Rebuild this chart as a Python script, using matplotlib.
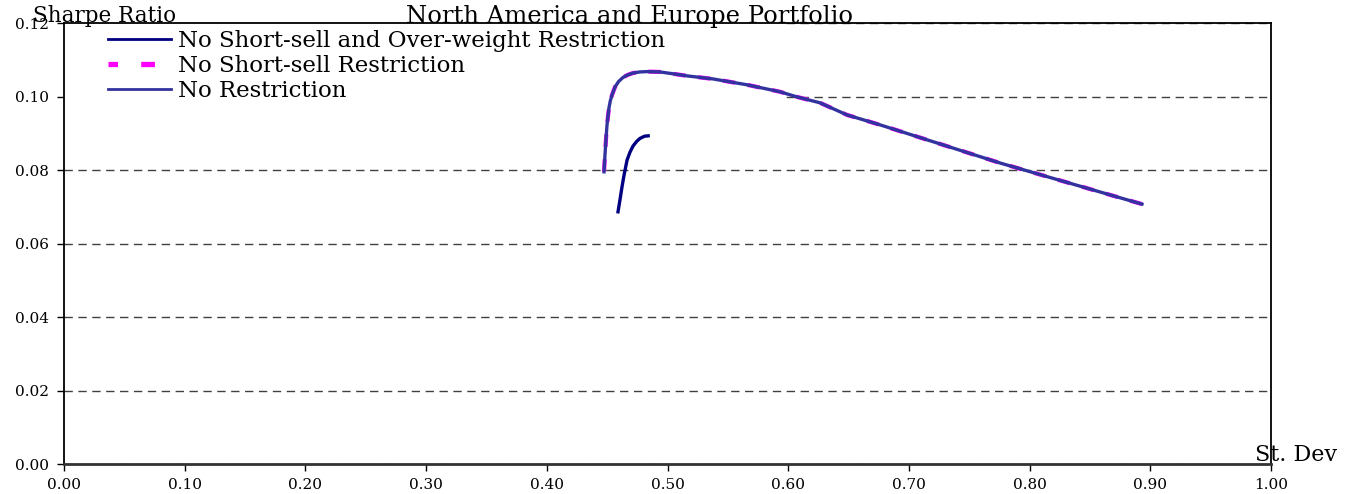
import matplotlib
matplotlib.use("Agg")
import matplotlib.pyplot as plt
from matplotlib.lines import Line2D
from matplotlib.patches import Rectangle

plt.rcParams['font.family'] = ['DejaVu Serif']

# St. Dev / Sharpe ratio
sd_nsow = [0.4590, 0.4606, 0.4623, 0.4640, 0.4665, 0.4690, 0.4714, 0.4745,
           0.4772, 0.4810, 0.4840]
sr_nsow = [0.0687, 0.0719, 0.0755, 0.0787, 0.0828, 0.0850, 0.0866, 0.0879,
           0.0887, 0.0893, 0.0894]

sd_ns = [0.4474, 0.4482, 0.4490, 0.4499, 0.4515, 0.4526, 0.4540, 0.4565, 0.4595,
         0.4631, 0.4670, 0.4714, 0.4770, 0.4830, 0.4938, 0.5046, 0.5170, 0.5377,
         0.5659, 0.5932, 0.6073, 0.6263, 0.6487, 0.6760, 0.7755, 0.8931]
sr_ns = [0.0796, 0.0842, 0.0883, 0.0924, 0.0970, 0.0989, 0.1005, 0.1027, 0.1042,
         0.1053, 0.1060, 0.1065, 0.1068, 0.1069, 0.1068, 0.1063, 0.1057, 0.1049,
         0.1033, 0.1014, 0.1000, 0.0984, 0.0951, 0.0924, 0.0820, 0.0708]

sd_nr = sd_ns
sr_nr = sr_ns

labels = ["No Short-sell and Over-weight Restriction",
          "No Short-sell Restriction",
          "No Restriction"]
xticks = [i / 10 for i in range(11)]
yticks = [i / 50 for i in range(7)]

fig = plt.figure(figsize=(13.52, 4.94), dpi=100)
ax = fig.add_axes([64 / 1352, 30 / 494, 1207 / 1352, 440.5 / 494])

ax.set_axisbelow(True)
ax.grid(axis='y', linestyle=(0, (6, 4)), color='#404040', linewidth=1)

# white area behind the legend hides the 0.10 gridline on the left
ax.add_patch(Rectangle((0, 0.0985), 0.597, 0.03, facecolor='white',
                       edgecolor='none', zorder=1.5))

ax.plot(sd_nsow, sr_nsow, color='#000080', lw=2.4, zorder=4)
ax.plot(sd_ns, sr_ns, color='#ff00ff', lw=3.0, ls=(0, (3, 3)), zorder=3)
ax.plot(sd_nr, sr_nr, color='#3333a0', lw=2.4, zorder=3.5)

handles = [Line2D([], [], color='#000080', lw=2.0),
           Line2D([], [], color='#ff00ff', lw=3.8, ls=(0.8, (2.6, 4.4))),
           Line2D([], [], color='#3333a0', lw=2.0)]
leg = ax.legend(handles, labels, loc='upper left',
                bbox_to_anchor=(0.0365, 0.986), frameon=False, fontsize=16.5,
                handlelength=2.75, handletextpad=0.3, labelspacing=0.14,
                borderpad=0, borderaxespad=0)
leg.set_zorder(2)

ax.set_xlim(0, 1.0)
ax.set_ylim(0, 0.12)
ax.set_xticks(xticks)
ax.set_yticks(yticks)
ax.set_xticklabels(["%.2f" % v for v in xticks])
ax.set_yticklabels(["%.2f" % v for v in yticks])
ax.tick_params(direction='out', length=5, width=1, labelsize=11)
ax.tick_params(axis='x', pad=5)
ax.tick_params(axis='y', pad=6)

for s in ax.spines.values():
    s.set_color('black')
    s.set_linewidth(1.3)
ax.spines['bottom'].set_color('#333333')
ax.spines['bottom'].set_linewidth(2)

fig.text(33 / 1352, 1 - 22 / 494, "Sharpe Ratio", fontsize=15.5, va='baseline')
fig.text(630 / 1352, 1 - 23 / 494, "North America and Europe Portfolio",
         fontsize=17.5, ha='center', va='baseline')
fig.text(1255 / 1352, 1 - 461 / 494, "St. Dev", fontsize=16, va='baseline')

fig.savefig("out.png", dpi=100, facecolor='white')
